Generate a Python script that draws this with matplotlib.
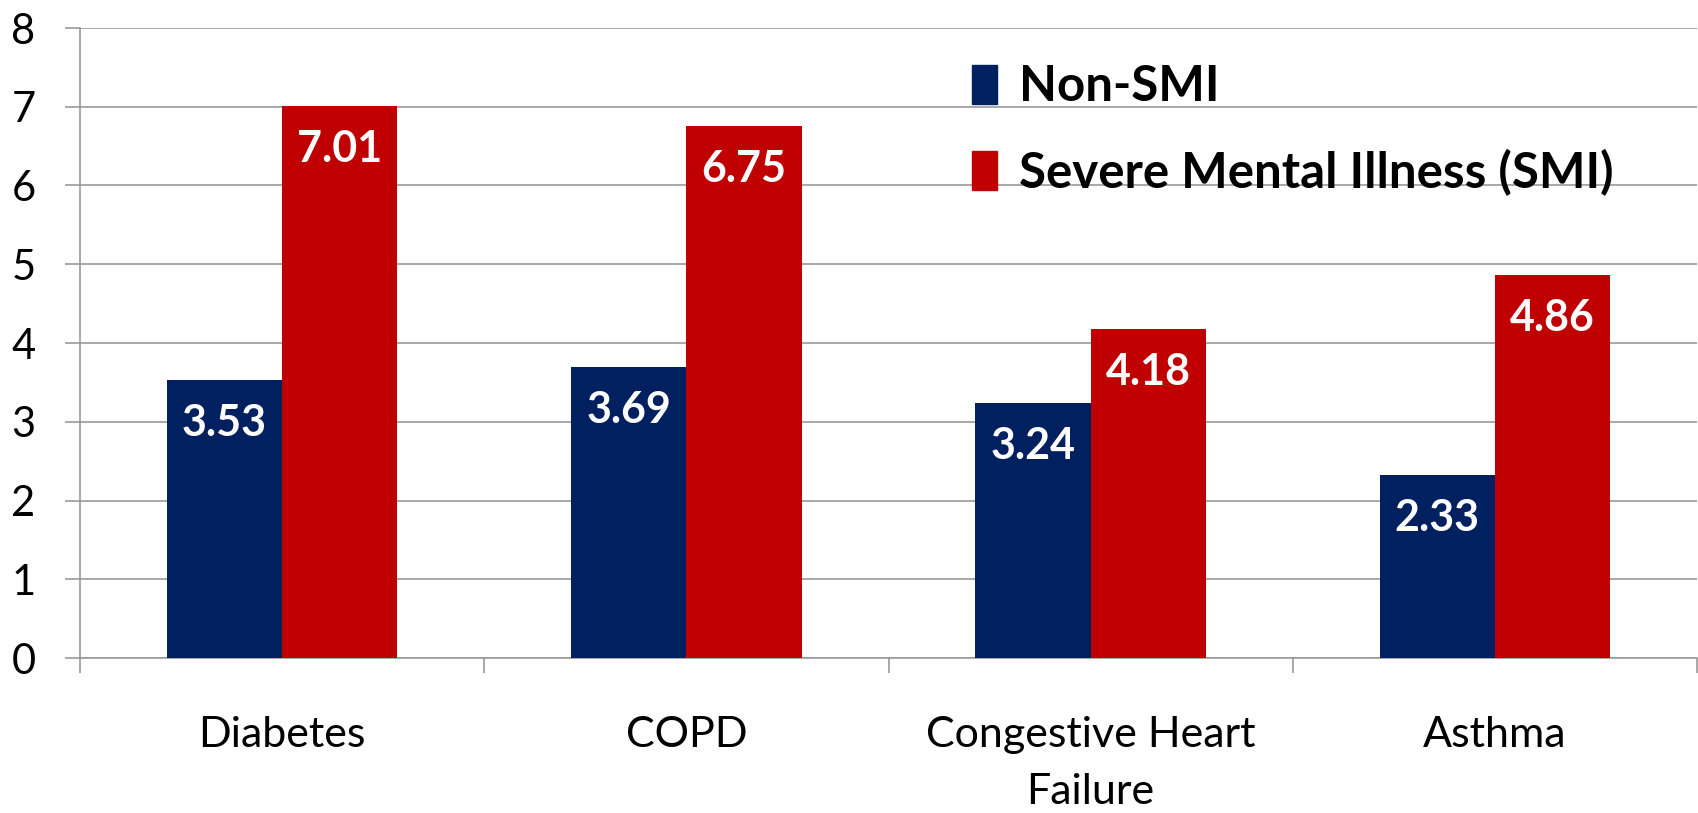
import numpy as np
import matplotlib
matplotlib.use('Agg')
from matplotlib import pyplot as plt
from matplotlib.patches import Patch

plt.rcParams['font.family'] = ['Lato', 'DejaVu Sans']

# Data
categories = ['Diabetes', 'COPD', 'Congestive Heart\nFailure', 'Asthma']
non_smi = [3.53, 3.69, 3.24, 2.33]
smi = [7.01, 6.75, 4.18, 4.86]
series_names = ['Non-SMI', 'Severe Mental Illness (SMI)']

navy = '#002060'
red = '#C00000'
grid_gray = '#999999'

fig = plt.figure(figsize=(16.98, 8.13), dpi=100)
ax = fig.add_axes([80/1698, 1 - 658/813, 1617/1698, 630/813])

x = np.arange(len(categories))
w = 0.285
b1 = ax.bar(x - w/2, non_smi, w, color=navy, zorder=3)
b2 = ax.bar(x + w/2, smi, w, color=red, zorder=3)

# value labels inside the bars, near the top
for bars, vals in [(b1, non_smi), (b2, smi)]:
    for rect, v in zip(bars, vals):
        ax.annotate(f'{v:.2f}', (rect.get_x() + rect.get_width()/2, v),
                    xytext=(0, -31), textcoords='offset points',
                    ha='center', va='center', color='white',
                    fontsize=31, fontweight='bold', zorder=4)

ax.set_xlim(-0.5, len(categories) - 0.5)
ax.set_ylim(0, 8)
ax.set_yticks(range(0, 9))
ax.yaxis.grid(True, color=grid_gray, linewidth=1.2, zorder=0)
ax.tick_params(axis='y', labelsize=30, length=11, width=1.2, color=grid_gray, pad=21)

# category boundaries as major ticks, names as minor ticks
ax.set_xticks(np.arange(-0.5, len(categories), 1.0))
ax.set_xticklabels([])
ax.set_xticks(x, minor=True)
ax.set_xticklabels(categories, minor=True, fontsize=31, linespacing=1.6)
ax.tick_params(axis='x', which='major', length=11, width=1.2, color=grid_gray)
ax.tick_params(axis='x', which='minor', length=0, pad=42)

for s in ['top', 'right']:
    ax.spines[s].set_visible(False)
for s in ['left', 'bottom']:
    ax.spines[s].set_color(grid_gray)
    ax.spines[s].set_linewidth(1.2)

handles = [Patch(color=navy), Patch(color=red)]
leg = fig.legend(handles, series_names, loc='upper left',
                 bbox_to_anchor=(928/1698, 1 - 20/813), frameon=False,
                 prop={'size': 35.5, 'weight': 'bold'},
                 handlelength=0.5, handleheight=0.85, handletextpad=0.45,
                 labelspacing=0.8)

plt.savefig('out.png', dpi=100)
